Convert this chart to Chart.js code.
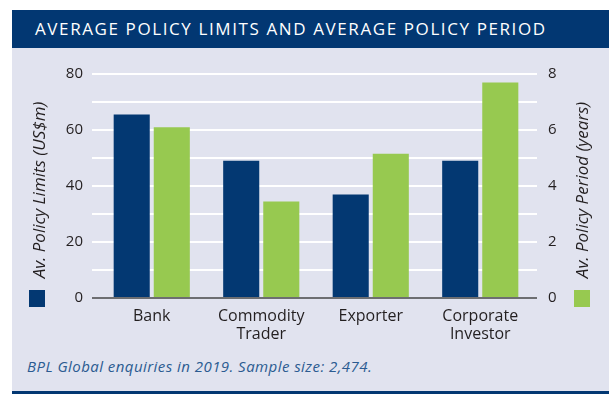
<!DOCTYPE html>
<html>
<head>
<meta charset="utf-8">
<script src="https://cdn.jsdelivr.net/npm/chart.js@4.4.1/dist/chart.umd.min.js"></script>
<style>
  body { margin: 0; background: #fff; width: 609px; height: 394px; overflow: hidden; position: relative; font-family: "Open Sans", sans-serif; }
  #title { position: absolute; left: 12px; top: 10px; width: 597px; height: 38px; background: #023772; color: #fff;
           font-size: 17px; letter-spacing: 1.6px; line-height: 38px; padding-left: 23px; box-sizing: border-box; white-space: nowrap; }
  #panel { position: absolute; left: 12px; top: 48px; width: 597px; height: 343px; background: #e1e3ef; }
  #bottom { position: absolute; left: 12px; top: 391px; width: 597px; height: 3px; background: #023772; }
  #note { position: absolute; left: 27px; top: 356px; font-style: italic; font-size: 15px; letter-spacing: 0.45px; color: #2b5b91; white-space: nowrap; }
  canvas { position: absolute; left: 0; top: 0; }
</style>
</head>
<body>
<div id="title">AVERAGE POLICY LIMITS AND AVERAGE POLICY PERIOD</div>
<div id="panel"></div>
<div id="bottom"></div>
<div id="note">BPL Global enquiries in 2019. Sample size: 2,474.</div>
<canvas id="policyChart" width="609" height="394"></canvas>
<script>
const categories = ['Bank', ['Commodity', 'Trader'], 'Exporter', ['Corporate', 'Investor']];
const policyLimits = [65.5, 49, 37, 49];      // US$m, left axis
const policyPeriod = [6.1, 3.45, 5.15, 7.7];  // years, right axis
const limitTicks = [0, 20, 40, 60, 80];
const periodTicks = [0, 2, 4, 6, 8];

const navy = '#033872';
const green = '#97c950';
const textColor = '#231f20';

// white grid lines, grey baseline at zero
const gridColor = (ctx) => (ctx.tick && ctx.tick.value === 0 ? '#6d6e71' : '#ffffff');

// axis titles (both read bottom-to-top) and the small coloured squares under them
const axisKeys = {
  id: 'axisKeys',
  afterDraw(chart) {
    const ctx = chart.ctx;
    const base = chart.scales.y.getPixelForValue(0);
    const keys = [
      { x: 40, square: 29, ds: chart.data.datasets[0] },
      { x: 583, square: 574, ds: chart.data.datasets[1] },
    ];
    ctx.save();
    keys.forEach((k) => {
      ctx.fillStyle = k.ds.backgroundColor;
      ctx.fillRect(k.square, base - 8, 16, 17);
      ctx.save();
      ctx.translate(k.x, 190);
      ctx.rotate(-Math.PI / 2);
      ctx.font = 'italic 17px "Open Sans"';
      ctx.fillStyle = textColor;
      ctx.textAlign = 'center';
      ctx.textBaseline = 'middle';
      ctx.fillText(k.ds.label, 0, 0);
      ctx.restore();
    });
    ctx.restore();
  }
};

new Chart(document.getElementById('policyChart'), {
  type: 'bar',
  data: {
    labels: categories,
    datasets: [
      { label: 'Av. Policy Limits (US$m)', data: policyLimits, backgroundColor: navy, yAxisID: 'y',
        categoryPercentage: 0.732, barPercentage: 0.9 },
      { label: 'Av. Policy Period (years)', data: policyPeriod, backgroundColor: green, yAxisID: 'y1',
        categoryPercentage: 0.732, barPercentage: 0.9 },
    ],
  },
  options: {
    responsive: false,
    animation: false,
    devicePixelRatio: 1,
    layout: { padding: { top: 74, left: 0, right: 0, bottom: 0 } },
    plugins: { legend: { display: false }, tooltip: { enabled: false } },
    scales: {
      x: {
        grid: { display: false, drawTicks: false, tickLength: 0 },
        border: { display: false },
        ticks: { color: textColor, font: { family: 'Open Sans', size: 16, lineHeight: 1.15 }, padding: 9, maxRotation: 0 },
        afterFit: (s) => { s.height = 96; },
      },
      y: {
        position: 'left',
        min: 0, max: 80,
        border: { display: false },
        grid: { color: gridColor, lineWidth: 2, tickLength: 5 },
        ticks: { stepSize: 10, padding: 9, color: textColor, font: { family: 'Open Sans', size: 15 },
                 callback: (v) => (limitTicks.includes(v) ? v : '') },
        afterFit: (s) => { s.width = 97; },
      },
      y1: {
        position: 'right',
        min: 0, max: 8,
        border: { display: false },
        grid: { drawOnChartArea: false, color: gridColor, lineWidth: 2, tickLength: 2 },
        ticks: { stepSize: 1, padding: 11, color: textColor, font: { family: 'Open Sans', size: 15 },
                 callback: (v) => (periodTicks.includes(v) ? v : '') },
        afterFit: (s) => { s.width = 74; },
      },
    },
  },
  plugins: [axisKeys],
});
</script>
</body>
</html>
